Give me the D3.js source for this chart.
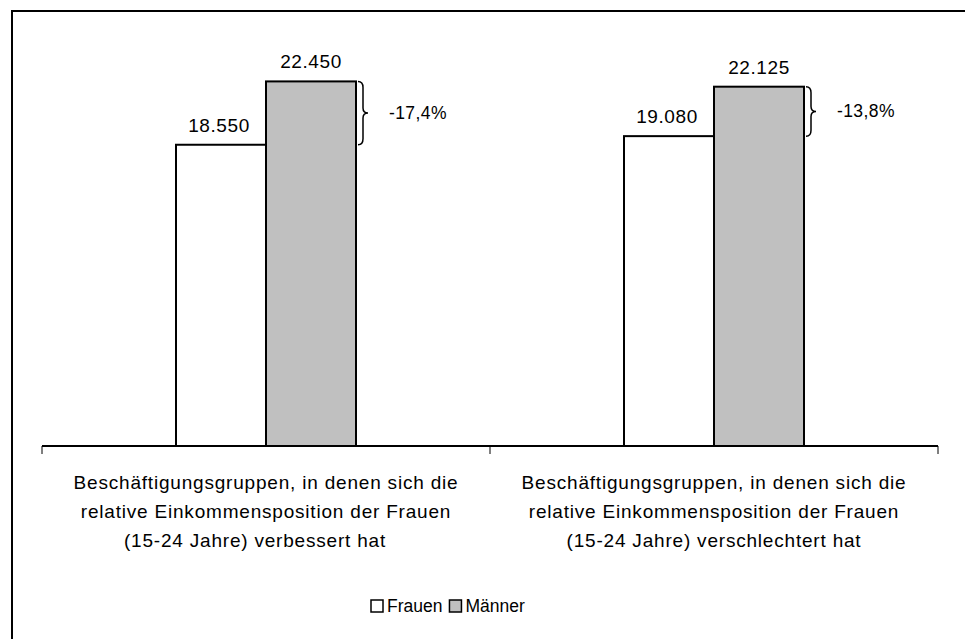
<!DOCTYPE html>
<html>
<head>
<meta charset="utf-8">
<script src="https://cdn.jsdelivr.net/npm/d3@7"></script>
<style>
  body { margin: 0; background: #fff; }
  svg { display: block; }
  text { font-family: "Liberation Sans", Arial, sans-serif; font-size: 17.5px; fill: #000; }
  .val { font-size: 19px; letter-spacing: 0.6px; }
  .cat { font-size: 19px; letter-spacing: 0.8px; }
  .pct { font-size: 17.5px; letter-spacing: 0.4px; }
</style>
</head>
<body>
<script>
// data
let categories = [
    ["Beschäftigungsgruppen, in denen sich die", "relative Einkommensposition der Frauen", "(15-24 Jahre) verbessert hat"],
    ["Beschäftigungsgruppen, in denen sich die", "relative Einkommensposition der Frauen", "(15-24 Jahre) verschlechtert hat"]
];
let seriesNames = ["Frauen", "Männer"];
let frauen = [18550, 19080];
let maenner = [22450, 22125];
let valueLabels = [["18.550", "19.080"], ["22.450", "22.125"]];
let gapLabels = ["-17,4%", "-13,8%"];

let width = 965, height = 639;
let plot = {left: 42, right: 938, top: 40, bottom: 446};
let colors = ["#ffffff", "#c0c0c0"];

let svg = d3.select("body").append("svg")
    .attr("width", width)
    .attr("height", height);

// outer frame (runs off the right and bottom edge in the original)
svg.append("rect")
    .attr("x", 12).attr("y", 11)
    .attr("width", 1000).attr("height", 700)
    .attr("fill", "none").attr("stroke", "#000").attr("stroke-width", 2);

let x0 = d3.scaleBand()
    .domain(d3.range(categories.length))
    .range([plot.left, plot.right]);

let x1 = d3.scaleBand()
    .domain(d3.range(seriesNames.length))
    .range([0, 180]);

let y = d3.scaleLinear()
    .domain([0, 25000])
    .range([plot.bottom, plot.top]);

let series = [frauen, maenner];

let groups = svg.selectAll(".grp")
    .data(categories)
    .enter()
    .append("g")
    .attr("class", "grp")
    .attr("transform", function (d, i) {
        return "translate(" + (x0(i) + x0.bandwidth() / 2 - 90) + ",0)";
    });

groups.each(function (d, i) {
    let g = d3.select(this);
    series.forEach(function (s, k) {
        g.append("rect")
            .attr("x", x1(k))
            .attr("y", y(s[i]))
            .attr("width", x1.bandwidth())
            .attr("height", y(0) - y(s[i]))
            .attr("fill", colors[k])
            .attr("stroke", "#000")
            .attr("stroke-width", 2);
        g.append("text")
            .attr("class", "val")
            .attr("x", x1(k) + x1.bandwidth() / 2 - (k === 0 ? 2 : 0))
            .attr("y", y(s[i]) - 13)
            .attr("text-anchor", "middle")
            .text(valueLabels[k][i]);
    });

    // curly brace between the two bar tops
    let xb = x1(1) + x1.bandwidth() + 2;
    let yt = y(maenner[i]), yb = y(frauen[i]);
    let ym = (yt + yb) / 2;
    let w = 5;
    let path = "M" + xb + "," + yt +
        " Q" + (xb + w) + "," + yt + " " + (xb + w) + "," + (yt + 6) +
        " L" + (xb + w) + "," + (ym - 5) +
        " Q" + (xb + w) + "," + ym + " " + (xb + 2 * w) + "," + ym +
        " Q" + (xb + w) + "," + ym + " " + (xb + w) + "," + (ym + 5) +
        " L" + (xb + w) + "," + (yb - 6) +
        " Q" + (xb + w) + "," + yb + " " + xb + "," + yb;
    g.append("path")
        .attr("d", path)
        .attr("fill", "none")
        .attr("stroke", "#000")
        .attr("stroke-width", 1.5);
    g.append("text")
        .attr("class", "pct")
        .attr("x", xb + 31)
        .attr("y", ym + 6)
        .text(gapLabels[i]);
});

// x axis
let xAxis = d3.axisBottom(x0)
    .tickSize(0)
    .tickFormat("");
let axisG = svg.append("g")
    .attr("transform", "translate(0," + plot.bottom + ")")
    .call(xAxis);
axisG.select(".domain").attr("stroke", "#000").attr("stroke-width", 2)
    .attr("d", "M" + plot.left + ",0H" + plot.right);

// category separators
svg.selectAll(".sep")
    .data(d3.range(categories.length + 1))
    .enter()
    .append("line")
    .attr("x1", function (d) { return plot.left + d * x0.bandwidth(); })
    .attr("x2", function (d) { return plot.left + d * x0.bandwidth(); })
    .attr("y1", plot.bottom)
    .attr("y2", plot.bottom + 8)
    .attr("stroke", "#000")
    .attr("stroke-width", 1);

// category labels
categories.forEach(function (lines, i) {
    let t = svg.append("text")
        .attr("class", "cat")
        .attr("text-anchor", "middle")
        .attr("x", x0(i) + x0.bandwidth() / 2)
        .attr("y", 489);
    lines.forEach(function (line, j) {
        t.append("tspan")
            .attr("x", x0(i) + x0.bandwidth() / 2 + (j === 2 && i === 0 ? -11 : 0))
            .attr("dy", j === 0 ? 0 : 29)
            .text(line);
    });
});

// legend
let legend = svg.append("g").attr("transform", "translate(371,606)");
let lx = 0;
seriesNames.forEach(function (name, k) {
    legend.append("rect")
        .attr("x", lx).attr("y", -6)
        .attr("width", 12).attr("height", 12)
        .attr("fill", colors[k])
        .attr("stroke", "#000").attr("stroke-width", 1.5);
    let t = legend.append("text")
        .attr("x", lx + 16).attr("y", 6)
        .text(name);
    lx += 16 + t.node().getComputedTextLength() + 7;
});
</script>
</body>
</html>
